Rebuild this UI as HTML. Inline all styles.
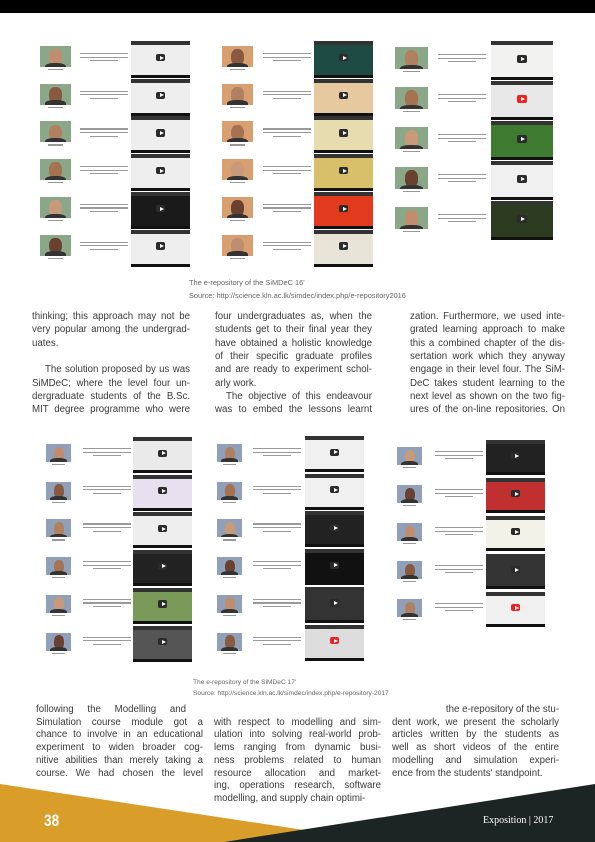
<!DOCTYPE html>
<html><head><meta charset="utf-8">
<style>
html,body{margin:0;padding:0;}
body{width:595px;height:842px;position:relative;overflow:hidden;background:#fff;font-family:"Liberation Sans",sans-serif;color:#3a3a3a;}
.abs{position:absolute;}
.ln{position:absolute;font-size:9.7px;line-height:12px;white-space:nowrap;text-align:justify;text-align-last:justify;}
.ln.l{text-align-last:left;}
.ln.r{text-align-last:right;text-align:right;}
.cap{position:absolute;font-size:6.6px;color:#666;white-space:nowrap;}
.photo{position:absolute;overflow:hidden;}
.photo .face{position:absolute;left:30%;top:15%;width:40%;height:75%;border-radius:45% 45% 40% 40%;}
.photo .body{position:absolute;left:15%;top:80%;width:70%;height:40%;border-radius:40% 40% 0 0;}
.vid{position:absolute;overflow:hidden;border-bottom:3px solid #111;}
.vid .bar{position:absolute;left:0;top:0;right:0;height:4px;background:#333;}
.vid .play{position:absolute;left:42%;top:38%;width:16%;height:22%;background:#2b2b2b;border-radius:2px;}
.vid .play.red{background:#e22;}
.vid .play:after{content:"";position:absolute;left:40%;top:25%;border-left:4px solid #fff;border-top:2.5px solid transparent;border-bottom:2.5px solid transparent;}
.txt{position:absolute;}
.txt div{height:1.2px;background:#9a9a9a;margin-bottom:2.4px;}
.name{position:absolute;height:1.2px;background:#999;}
</style></head><body>
<div class="abs" style="left:0;top:0;width:595px;height:13px;background:#000;"></div>

<div id="fig1"></div>
<div class="cap" style="left:189px;top:278px;font-size:7.4px;">The e-repository of the SiMDeC 16'</div>
<div class="cap" style="left:189px;top:291px;font-size:7.4px;">Source: http://science.kln.ac.lk/simdec/index.php/e-repository2016</div>

<div id="fig2"></div>
<div class="cap" style="left:193px;top:679px;">The e-repository of the SiMDeC 17'</div>
<div class="cap" style="left:193px;top:690px;">Source: http://science.kln.ac.lk/simdec/index.php/e-repository-2017</div>

<div>
<div class="ln" style="left:32px;top:311px;width:158px;">thinking; this approach may not be</div>
<div class="ln" style="left:32px;top:324px;width:158px;">very popular among the undergrad-</div>
<div class="ln l" style="left:32px;top:338px;width:158px;">uates.</div>
<div class="ln" style="left:45px;top:364px;width:145px;">The solution proposed by us was</div>
<div class="ln" style="left:32px;top:378px;width:158px;">SiMDeC; where the level four un-</div>
<div class="ln" style="left:32px;top:391px;width:158px;">dergraduate students of the B.Sc.</div>
<div class="ln" style="left:32px;top:404px;width:158px;">MIT degree programme who were</div>
</div>
<div>
<div class="ln" style="left:215px;top:311px;width:157px;">four undergraduates as, when the</div>
<div class="ln" style="left:215px;top:324px;width:157px;">students get to their final year they</div>
<div class="ln" style="left:215px;top:338px;width:157px;">have obtained a holistic knowledge</div>
<div class="ln" style="left:215px;top:351px;width:157px;">of their specific graduate profiles</div>
<div class="ln" style="left:215px;top:364px;width:157px;">and are ready to experiment schol-</div>
<div class="ln l" style="left:215px;top:378px;width:157px;">arly work.</div>
<div class="ln" style="left:226px;top:391px;width:146px;">The objective of this endeavour</div>
<div class="ln" style="left:215px;top:404px;width:157px;">was to embed the lessons learnt</div>
</div>
<div>
<div class="ln" style="left:410px;top:311px;width:155px;">zation. Furthermore, we used inte-</div>
<div class="ln" style="left:410px;top:324px;width:155px;">grated learning approach to make</div>
<div class="ln" style="left:410px;top:338px;width:155px;">this a combined chapter of the dis-</div>
<div class="ln" style="left:410px;top:351px;width:155px;">sertation work which they anyway</div>
<div class="ln" style="left:410px;top:364px;width:155px;">engage in their level four.  The SiM-</div>
<div class="ln" style="left:410px;top:378px;width:155px;">DeC takes student learning to the</div>
<div class="ln" style="left:410px;top:391px;width:155px;">next level as shown on the two fig-</div>
<div class="ln" style="left:410px;top:404px;width:155px;">ures of the on-line repositories. On</div>
</div>

<div>
<div class="ln" style="left:36px;top:704px;width:150px;">following&nbsp;&nbsp;the&nbsp;&nbsp;Modelling&nbsp;&nbsp;and</div>
<div class="ln" style="left:36px;top:717px;width:167px;">Simulation course module got a</div>
<div class="ln" style="left:36px;top:729px;width:167px;">chance to involve in an educational</div>
<div class="ln" style="left:36px;top:742px;width:167px;">experiment to widen broader cog-</div>
<div class="ln" style="left:36px;top:755px;width:167px;">nitive abilities than merely taking a</div>
<div class="ln" style="left:36px;top:768px;width:167px;">course. We had chosen the level</div>
</div>
<div>
<div class="ln" style="left:214px;top:717px;width:167px;">with respect to modelling and sim-</div>
<div class="ln" style="left:214px;top:729px;width:167px;">ulation into solving real-world prob-</div>
<div class="ln" style="left:214px;top:742px;width:167px;">lems ranging from dynamic busi-</div>
<div class="ln" style="left:214px;top:755px;width:167px;">ness problems related to human</div>
<div class="ln" style="left:214px;top:768px;width:167px;">resource allocation and market-</div>
<div class="ln" style="left:214px;top:780px;width:167px;">ing, operations research, software</div>
<div class="ln l" style="left:214px;top:793px;width:167px;">modelling, and supply chain optimi-</div>
</div>
<div>
<div class="ln r" style="left:392px;top:704px;width:167px;">the e-repository of the stu-</div>
<div class="ln" style="left:392px;top:717px;width:167px;">dent work, we present the scholarly</div>
<div class="ln" style="left:392px;top:729px;width:167px;">articles written by the students as</div>
<div class="ln" style="left:392px;top:742px;width:167px;">well as short videos of the entire</div>
<div class="ln" style="left:392px;top:755px;width:167px;">modelling and simulation experi-</div>
<div class="ln l" style="left:392px;top:768px;width:167px;">ence from the students' standpoint.</div>
</div>

<svg class="abs" style="left:0;top:0" width="595" height="842">
<polygon points="0,784 304,830 224,842 0,842" fill="#d99d2a"/>
<polygon points="595,784 595,842 224,842" fill="#1d2424"/>
</svg>
<div class="abs" style="left:44px;top:811px;font-size:17px;font-weight:bold;color:#fff;transform:scaleX(0.8);transform-origin:left;">38</div>
<div class="abs" style="left:483px;top:815px;font-family:'Liberation Serif',serif;font-size:10px;color:#fff;">Exposition | 2017</div>

<script>
const vidColors=['#eee','#eee','#eee','#eee','#1a1a1a','#eee','#1e4a44','#e7c9a0','#e6dcb0','#d8c06a','#e23a1c','#e8e4d8','#f2f2f0','#e8e8e8','#3e7a30','#f0f0f0','#2c3a20'];
const vid2=['#eaeaea','#e6e0ef','#eee','#222','#7a9a5a','#555','#f0f0f0','#f0f0f0','#222','#111','#333','#ddd','#222','#c03030','#f2f2e8','#333','#f0f0f0'];
const skins=['#c08e6e','#8a5a40','#b08060','#a57252','#c89a7a','#6a4030'];
function photo(parent,x,y,w,h,i,bg){
  const p=document.createElement('div');p.className='photo';
  
  
  p.style.cssText=`left:${x}px;top:${y}px;width:${w}px;height:${h}px;background:${bg};`;
  p.innerHTML=`<div class="face" style="background:${skins[i%6]}"></div><div class="body" style="background:#333"></div>`;
  parent.appendChild(p);
  const n=document.createElement('div');n.className='name';
  
  
  n.style.cssText=`left:${x+w*0.25}px;top:${y+h+2}px;width:${w*0.5}px;`;
  parent.appendChild(n);
}
function txt(parent,x,y,w,lines){
  const t=document.createElement('div');t.className='txt';
  
  
  t.style.cssText=`left:${x}px;top:${y}px;width:${w}px;`;
  for(let k=0;k<lines;k++){t.innerHTML+=`<div style="width:${k==lines-1?60:100}%;margin-left:${k==lines-1?20:0}%"></div>`;}
  parent.appendChild(t);
}
function vid(parent,x,y,w,h,c,red){
  const v=document.createElement('div');v.className='vid';
  
  
  v.style.cssText=`left:${x}px;top:${y}px;width:${w}px;height:${h-3}px;background:${c};`;
  v.innerHTML=`<div class="bar"></div><div class="play${red?' red':''}"></div>`;
  parent.appendChild(v);
}
const f1=document.getElementById('fig1');
const cols1=[{px:40,pw:31,ph:21,tx:80,tw:48,vx:131,vw:59,py:46,step:37.7,vy:41,vh:37,n:6},
 {px:222,pw:31,ph:21,tx:263,tw:48,vx:314,vw:59,py:46,step:37.7,vy:41,vh:37,n:6},
 {px:395,pw:33,ph:22,tx:438,tw:48,vx:491,vw:62,py:47,step:40,vy:41,vh:39,n:5}];
let ci=0;
cols1.forEach((c,j)=>{for(let r=0;r<c.n;r++){
  photo(f1,c.px,c.py+r*c.step,c.pw,c.ph,r+j,j==1?'#d8a070':'#8aa888');
  txt(f1,c.tx,c.py+7+r*c.step,c.tw,3);
  vid(f1,c.vx,c.vy+r*c.step,c.vw,c.vh,vidColors[ci++%vidColors.length],j==2&&r==1);
}});
const f2=document.getElementById('fig2');
const cols2=[{px:46,tx:83,tw:48,vx:133,vw:59,py:444,step:37.7,vy:437,vh:36,n:6},
 {px:217,tx:253,tw:48,vx:305,vw:59,py:444,step:37.7,vy:436,vh:36,n:6},
 {px:397,tx:435,tw:48,vx:486,vw:59,py:447,step:38,vy:440,vh:35,n:5}];
ci=0;
cols2.forEach((c,j)=>{for(let r=0;r<c.n;r++){
  photo(f2,c.px,c.py+r*c.step,25,18,r+j*2,'#8fa0b8');
  txt(f2,c.tx,c.py+4+r*c.step,c.tw,3);
  vid(f2,c.vx,c.vy+r*c.step,c.vw,c.vh,vid2[ci++%vid2.length],(j==2&&r==4)||(j==1&&r==5));
}});
</script>
</body></html>
